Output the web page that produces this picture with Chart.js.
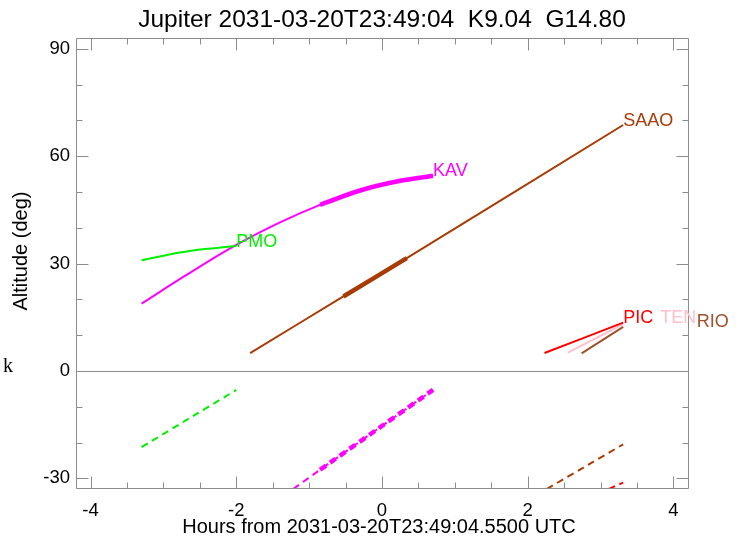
<!DOCTYPE html>
<html>
<head>
<meta charset="utf-8">
<script src="https://cdn.jsdelivr.net/npm/chart.js@4/dist/chart.umd.min.js"></script>
<style>
  body { margin: 0; background: #fff; }
  canvas { display: block; }
</style>
</head>
<body>
<canvas id="grafico" width="740" height="539"></canvas>
<script>
'use strict'

// ticks
const xTicks = [-4, -2, 0, 2, 4];
const yTicks = [-30, 0, 30, 60, 90];

// PMO
const pmoHours = [-3.3, -2.95, -2.64, -2.3, -2.0];
const pmoAlt = [30.9, 32.4, 33.5, 34.3, 34.9];
const pmoDashHours = [-3.3, -2.0];
const pmoDashAlt = [-21.3, -5.3];

// KAV (thick part from kavThickFrom on)
const kavHours = [-3.3, -2.7, -2.0, -1.4, -0.85, -0.3, 0.2, 0.7];
const kavAlt = [18.8, 26.6, 35.2, 41.5, 46.4, 50.4, 52.9, 54.5];
const kavDashHours = [-1.22, -0.85, 0.7];
const kavDashAlt = [-33.0, -27.6, -5.3];
const kavThickFrom = -0.85;

// SAAO (thick part between saaoThick[0] and saaoThick[1])
const saaoHours = [-1.81, -0.53, 0.34, 3.31];
const saaoAlt = [5.0, 20.8, 31.5, 68.7];
const saaoDashHours = [2.26, 3.31];
const saaoDashAlt = [-33.0, -20.5];
const saaoThick = [-0.53, 0.34];

// PIC, TEN, RIO
const picHours = [2.23, 3.31];
const picAlt = [5.0, 13.5];
const picDashHours = [3.11, 3.31];
const picDashAlt = [-33.0, -31.2];
const tenHours = [2.55, 3.31];
const tenAlt = [5.1, 13.1];
const rioHours = [2.74, 3.31];
const rioAlt = [4.9, 12.3];

// site labels
const siteNames = ['PMO', 'KAV', 'SAAO', 'PIC', 'TEN', 'RIO'];
const labelHours = [-2.0, 0.7, 3.31, 3.31, 3.82, 4.32];
const labelAlt = [34.7, 54.5, 68.4, 13.5, 13.5, 12.3];
const siteColors = ['#00f000', '#ff00ff', '#a83c06', '#ff0000', '#ffc0cb', '#a0522d'];

const FONT = "'Liberation Sans', Arial, sans-serif";

function pts(h, a) {
  return h.map((x, i) => ({x: x, y: a[i]}));
}

function serie(data, color, width, dash) {
  return {
    data: data,
    showLine: true,
    borderColor: color,
    borderWidth: width,
    borderDash: dash || [],
    pointRadius: 0,
    tension: 0.4,
    clip: 0
  };
}

const dashed = [7, 5];

const datasets = [
  serie(pts(pmoHours, pmoAlt), siteColors[0], 2),
  serie(pts(pmoDashHours, pmoDashAlt), siteColors[0], 2, dashed),
  serie(pts(kavHours, kavAlt), siteColors[1], 2),
  serie(pts(kavHours, kavAlt).filter(p => p.x >= kavThickFrom), siteColors[1], 4.5),
  serie(pts(kavDashHours, kavDashAlt), siteColors[1], 2, dashed),
  serie(pts(kavDashHours, kavDashAlt).filter(p => p.x >= kavThickFrom), siteColors[1], 4.5, dashed),
  serie(pts(saaoHours, saaoAlt), siteColors[2], 2),
  serie(pts(saaoHours, saaoAlt).filter(p => p.x >= saaoThick[0] && p.x <= saaoThick[1]), siteColors[2], 4.5),
  serie(pts(saaoDashHours, saaoDashAlt), siteColors[2], 2, dashed),
  serie(pts(picHours, picAlt), siteColors[3], 2),
  serie(pts(picDashHours, picDashAlt), siteColors[3], 2, dashed),
  serie(pts(tenHours, tenAlt), siteColors[4], 2),
  serie(pts(rioHours, rioAlt), siteColors[5], 2)
];

// frame, inward ticks, zero line and texts
const marco = {
  id: 'marco',
  beforeDatasetsDraw(chart) {
    const {ctx, chartArea: a, scales: {y}} = chart;
    const y0 = Math.round(y.getPixelForValue(0)) + 0.5;
    ctx.save();
    ctx.strokeStyle = '#8c8c8c';
    ctx.lineWidth = 1;
    ctx.beginPath();
    ctx.moveTo(a.left, y0);
    ctx.lineTo(a.right, y0);
    ctx.stroke();
    ctx.restore();
  },
  afterDraw(chart) {
    const {ctx, chartArea: a, scales: {x, y}} = chart;
    ctx.save();
    ctx.strokeStyle = '#8c8c8c';
    ctx.lineWidth = 1;
    const L = Math.round(a.left) + 0.5, R = Math.round(a.right) + 0.5;
    const T = Math.round(a.top) + 0.5, B = Math.round(a.bottom) + 0.5;
    ctx.beginPath();
    ctx.rect(L, T, R - L, B - T);
    for (let v = -4; v <= 4.001; v += 0.5) {
      const len = xTicks.includes(v) ? 12 : 6;
      const px = Math.round(x.getPixelForValue(v)) + 0.5;
      ctx.moveTo(px, B); ctx.lineTo(px, B - len);
      ctx.moveTo(px, T); ctx.lineTo(px, T + len);
    }
    for (let v = -30; v <= 90; v += 10) {
      const len = yTicks.includes(v) ? 12 : 6;
      const py = Math.round(y.getPixelForValue(v)) + 0.5;
      ctx.moveTo(L, py); ctx.lineTo(L + len, py);
      ctx.moveTo(R, py); ctx.lineTo(R - len, py);
    }
    ctx.stroke();

    // site labels
    ctx.font = '18px ' + FONT;
    ctx.textAlign = 'left';
    ctx.textBaseline = 'alphabetic';
    siteNames.forEach((n, i) => {
      ctx.fillStyle = siteColors[i];
      ctx.fillText(n, x.getPixelForValue(labelHours[i]), y.getPixelForValue(labelAlt[i]));
    });

    // titles
    const cx = (a.left + a.right) / 2;
    ctx.fillStyle = '#000';
    ctx.textAlign = 'center';
    ctx.font = '24.5px ' + FONT;
    ctx.fillText('Jupiter 2031-03-20T23:49:04  K9.04  G14.80', cx, 27);
    ctx.font = '20px ' + FONT;
    ctx.fillText('Hours from 2031-03-20T23:49:04.5500 UTC', cx - 3, 533);
    ctx.save();
    ctx.translate(27, 251);
    ctx.rotate(-Math.PI / 2);
    ctx.fillText('Altitude (deg)', 0, 0);
    ctx.restore();
    ctx.textAlign = 'left';
    ctx.font = "20px 'Liberation Serif', 'DejaVu Serif', serif";
    ctx.fillText('k', 3, 372);
    ctx.restore();
  }
};

const config = {
  type: 'scatter',
  data: {datasets: datasets},
  options: {
    responsive: false,
    animation: false,
    devicePixelRatio: 1,
    layout: {padding: {top: 38, right: 52, left: 0, bottom: 0}},
    plugins: {legend: {display: false}, tooltip: {enabled: false}},
    scales: {
      x: {
        type: 'linear',
        min: -4.2,
        max: 4.2,
        afterBuildTicks: s => { s.ticks = xTicks.map(v => ({value: v})); },
        afterFit: s => { s.height = 51; },
        grid: {display: false, drawTicks: false},
        border: {display: false},
        ticks: {color: '#000', font: {family: FONT, size: 18.5}, padding: 12, maxRotation: 0, autoSkip: false}
      },
      y: {
        type: 'linear',
        min: -32.7,
        max: 93,
        afterBuildTicks: s => { s.ticks = yTicks.map(v => ({value: v})); },
        afterFit: s => { s.width = 76; },
        grid: {display: false, drawTicks: false},
        border: {display: false},
        ticks: {color: '#000', font: {family: FONT, size: 18.5}, padding: 6, autoSkip: false}
      }
    }
  },
  plugins: [marco]
};

const grafico = new Chart(document.querySelector('#grafico'), config);
</script>
</body>
</html>
